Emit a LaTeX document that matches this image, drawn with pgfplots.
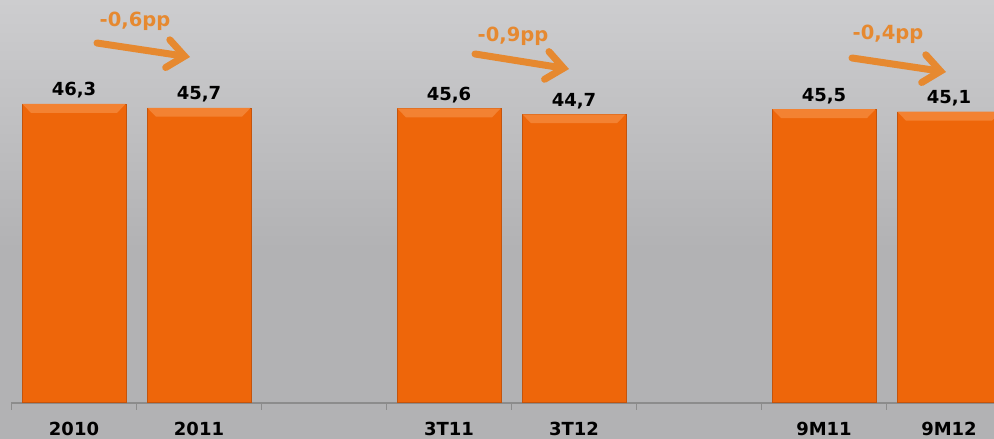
\documentclass[border=0pt]{standalone}
\usepackage{pgfplots}
\pgfplotsset{compat=1.18}
\usepackage{fontspec}
\setmainfont{DejaVu Sans}
\usetikzlibrary{arrows.meta}

\definecolor{bgtop}{RGB}{205,205,207}
\definecolor{bgbot}{RGB}{178,178,180}
\definecolor{barorange}{RGB}{238,102,10}
\definecolor{bardark}{RGB}{196,84,12}
\definecolor{bevel}{RGB}{243,130,50}
\definecolor{arrowcol}{RGB}{230,137,48}
\definecolor{axisgray}{RGB}{140,140,140}

% light bevel at the top of each bar
\pgfdeclareplotmark{bevel}{%
  \pgfpathmoveto{\pgfpoint{-51.6pt}{0.4pt}}%
  \pgfpathlineto{\pgfpoint{51.6pt}{0.4pt}}%
  \pgfpathlineto{\pgfpoint{43pt}{-8.5pt}}%
  \pgfpathlineto{\pgfpoint{-43pt}{-8.5pt}}%
  \pgfpathclose
  \pgfusepathqfill}

\begin{document}
\begin{tikzpicture}[x=1pt,y=1pt]
\path[use as bounding box, clip] (0,0) rectangle (994,439);
\fill[bgbot] (0,0) rectangle (994,439);
\shade[top color=bgtop, bottom color=bgbot] (0,190) rectangle (994,439);

\begin{axis}[
  at={(11.5pt,36pt)}, anchor=south west,
  scale only axis,
  width=982.5pt, height=403pt,
  xmin=-0.5, xmax=7.36,
  ymin=0, ymax=62.48,
  axis x line*=bottom,
  axis y line=none,
  x axis line style={-, draw=axisgray, line width=1.4pt},
  xtick={0,1,3,4,6,7},
  xticklabels={2010,2011,3T11,3T12,9M11,9M12},
  major tick length=0pt,
  minor xtick={-0.5,0.5,1.5,2.5,3.5,4.5,5.5,6.5},
  minor tick length=7pt,
  tick align=outside,
  minor tick style={draw=axisgray, line width=1.2pt},
  xticklabel style={font=\bfseries\fontsize{18}{21}\selectfont, yshift=-16pt},
  /pgf/number format/assume math mode=true,
]
\addplot[ybar, bar width=104pt, fill=barorange, draw=bardark, line width=1pt,
  nodes near coords={\pgfmathprintnumber[use comma,fixed,fixed zerofill,precision=1]{\pgfplotspointmeta}},
  every node near coord/.append style={font=\bfseries\fontsize{18}{21}\selectfont, text=black, yshift=2pt}]
  coordinates {(0,46.3) (1,45.7) (3,45.6) (4,44.7) (6,45.5) (7,45.1)};
\addplot[only marks, mark=bevel, mark options={fill=bevel, draw=none}]
  coordinates {(0,46.3) (1,45.7) (3,45.6) (4,44.7) (6,45.5) (7,45.1)};

% change arrows
\draw[arrowcol, line width=7pt, line cap=round,
  -{Straight Barb[length=17pt, width=28pt, line cap=round]}]
  (axis cs:0.184,55.81) -- (axis cs:0.928,53.64);
\draw[arrowcol, line width=7pt, line cap=round,
  -{Straight Barb[length=17pt, width=28pt, line cap=round]}]
  (axis cs:3.208,54.11) -- (axis cs:3.960,51.78);
\draw[arrowcol, line width=7pt, line cap=round,
  -{Straight Barb[length=17pt, width=28pt, line cap=round]}]
  (axis cs:6.224,53.49) -- (axis cs:6.976,51.32);

\node[text=arrowcol, font=\bfseries\fontsize{19.5}{23}\selectfont] at (axis cs:0.488,59.22) {-0,6pp};
\node[text=arrowcol, font=\bfseries\fontsize{19.5}{23}\selectfont] at (axis cs:3.512,56.90) {-0,9pp};
\node[text=arrowcol, font=\bfseries\fontsize{19.5}{23}\selectfont] at (axis cs:6.512,57.21) {-0,4pp};
\end{axis}
\end{tikzpicture}
\end{document}
